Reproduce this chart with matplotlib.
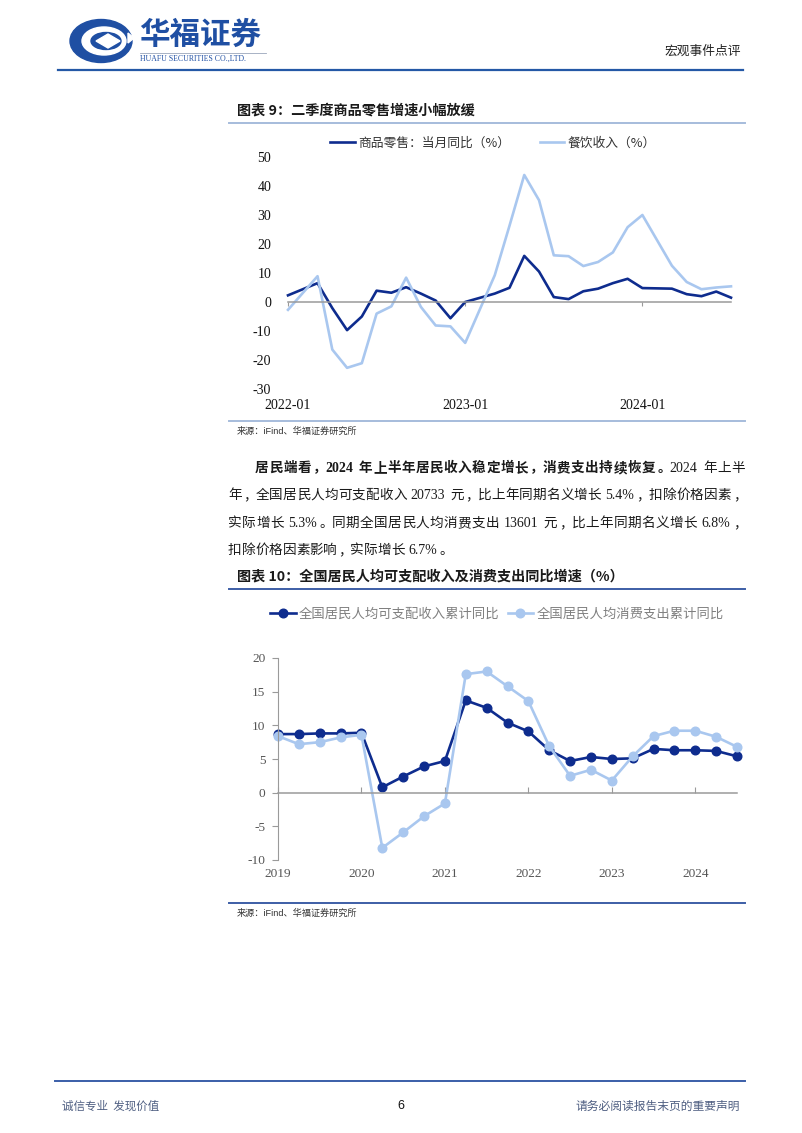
import re

import matplotlib
matplotlib.use("Agg")
import matplotlib.pyplot as plt
from matplotlib.font_manager import FontProperties
from matplotlib.patches import Ellipse, Polygon

W, H, DPI = 802, 1133, 100

NAVY = "#0e2c8e"
LIGHT = "#a9c7ef"
BRAND = "#1f4fa3"
RULE_LIGHT = "#a6bcdc"
RULE_DARK = "#3d5ea6"
ZERO = "#9a9a9a"
INK = "#1a1a1a"

CJK = "Noto Sans CJK SC"
SERIF = "Liberation Serif"

plt.rcParams["axes.unicode_minus"] = False

# ---- chart 9: monthly yoy, retail of goods vs catering (%) ----
retail_months = ["2021-12", "2022-02", "2022-03", "2022-04", "2022-05", "2022-06",
                 "2022-07", "2022-08", "2022-09", "2022-10", "2022-11", "2022-12",
                 "2023-02", "2023-03", "2023-04", "2023-05", "2023-06", "2023-07",
                 "2023-08", "2023-09", "2023-10", "2023-11", "2023-12",
                 "2024-02", "2024-03", "2024-04", "2024-05", "2024-06"]
goods_yoy = [2.3, 6.5, -2.1, -9.7, -5.0, 3.9, 3.2, 5.1, 2.9, 0.5, -5.6, 0.0,
             2.9, 4.9, 15.9, 10.5, 1.7, 1.0, 3.7, 4.6, 6.5, 8.0, 4.8,
             4.6, 2.7, 2.0, 3.6, 1.5]
catering_yoy = [-2.7, 8.9, -16.4, -22.7, -21.1, -4.0, -1.5, 8.4, -1.7, -8.1, -8.4, -14.1,
                9.2, 26.3, 43.8, 35.1, 16.1, 15.8, 12.4, 13.8, 17.1, 25.8, 30.0,
                12.5, 6.9, 4.4, 5.0, 5.4]
month_tick_labels = ["2022-01", "2023-01", "2024-01"]

# ---- chart 10: cumulative yoy per-capita income / consumption (%) ----
quarters = ["2018Q4", "2019Q1", "2019Q2", "2019Q3", "2019Q4", "2020Q1", "2020Q2",
            "2020Q3", "2020Q4", "2021Q1", "2021Q2", "2021Q3", "2021Q4", "2022Q1",
            "2022Q2", "2022Q3", "2022Q4", "2023Q1", "2023Q2", "2023Q3", "2023Q4",
            "2024Q1", "2024Q2"]
income_yoy = [8.7, 8.7, 8.8, 8.8, 8.9, 0.8, 2.4, 3.9, 4.7, 13.7, 12.6, 10.4, 9.1,
              6.3, 4.7, 5.3, 5.0, 5.1, 6.5, 6.3, 6.3, 6.2, 5.4]
consumption_yoy = [8.4, 7.2, 7.5, 8.2, 8.6, -8.2, -5.9, -3.5, -1.6, 17.6, 18.0, 15.8,
                   13.6, 6.9, 2.5, 3.4, 1.8, 5.4, 8.4, 9.2, 9.2, 8.3, 6.8]
year_tick_labels = ["2019", "2020", "2021", "2022", "2023", "2024"]


def month_pos(s):
    # month-end dates sit on the start of the next month
    y, m = s.split("-")
    return (int(y) - 2022) * 12 + int(m)


def quarter_pos(s):
    y, q = s.split("Q")
    return (int(y) - 2019) * 4 + int(q)


def rect(x0, y0, x1, y1):
    return [x0 / W, 1 - y1 / H, (x1 - x0) / W, (y1 - y0) / H]


fig = plt.figure(figsize=(W / DPI, H / DPI), dpi=DPI)
fig.patch.set_facecolor("white")
renderer = fig.canvas.get_renderer()

page = fig.add_axes([0, 0, 1, 1])
page.set_xlim(0, W)
page.set_ylim(H, 0)
page.axis("off")

# ---- header ----
page.add_patch(Ellipse((101, 41), 62, 43, color=BRAND))
page.add_patch(Ellipse((104, 41), 44, 28, color="white"))
page.add_patch(Ellipse((106, 41), 30, 17, color=BRAND))
page.add_patch(Polygon([(96, 41), (108, 34), (120, 41), (108, 48)], color="white"))
page.add_patch(Polygon([(128, 33), (134, 38), (128, 43)], color="white"))
page.text(139, 35, "华福证券", family=CJK, fontsize=22, fontweight="bold",
          color=BRAND, va="center", ha="left")
page.plot([140, 266], [53, 53], color="#9aa6bb", lw=0.6)
page.text(140, 59, "HUAFU SECURITIES CO.,LTD.", family=SERIF, fontsize=5.6,
          color=BRAND, va="center", ha="left")
page.text(741, 51, "宏观事件点评", family=CJK, fontsize=9.2, color="#222222",
          va="center", ha="right")
page.plot([58, 743], [70, 70], color="#2458a6", lw=1.6)

# ---- chart 9 frame ----
page.text(237, 110, "图表 9：二季度商品零售增速小幅放缓", family=CJK, fontsize=10.2,
          fontweight="bold", color=INK, va="center", ha="left")
page.plot([229, 745], [123, 123], color=RULE_LIGHT, lw=1.4)
page.plot([229, 745], [421, 421], color=RULE_LIGHT, lw=1.4)
page.text(237, 431, "来源：iFind、华福证券研究所", family=["Liberation Sans", CJK],
          fontsize=6.6, color="#333333", va="center", ha="left")

ax1 = fig.add_axes(rect(288, 157, 731, 389))
ax1.patch.set_alpha(0)
mx = [month_pos(m) for m in retail_months]
l1, = ax1.plot(mx, goods_yoy, color=NAVY, lw=1.9, label="商品零售：当月同比（%）",
               clip_on=False)
l2, = ax1.plot(mx, catering_yoy, color=LIGHT, lw=1.9, label="餐饮收入（%）",
               clip_on=False)
ax1.set_xlim(0, 30)
ax1.set_ylim(-30, 50)
ax1.set_yticks(range(-30, 51, 10))
ax1.tick_params(axis="y", length=0, pad=12, labelsize=10, labelcolor="#111111")
for lab in ax1.get_yticklabels():
    lab.set_family(SERIF)
for side in ("top", "right", "left"):
    ax1.spines[side].set_visible(False)
ax1.spines["bottom"].set_position(("data", 0))
ax1.spines["bottom"].set_color(ZERO)
ax1.spines["bottom"].set_linewidth(1.1)
ax1.set_zorder(3)
mticks = [0, 12, 24]
ax1.set_xticks(mticks)
ax1.tick_params(axis="x", length=3, color=ZERO, direction="out", labelbottom=False)
for pos, lab in zip(mticks, month_tick_labels):
    ax1.text(pos, -0.045, lab, transform=ax1.get_xaxis_transform(), ha="center",
             va="top", family=SERIF, fontsize=10, color="#111111")

fig.legend(handles=[l1, l2], loc="center", bbox_to_anchor=(493 / W, 1 - 143 / H),
           ncol=2, frameon=False, prop=FontProperties(family=CJK, size=9.2),
           handlelength=1.95, handletextpad=0.25, columnspacing=2.3,
           labelcolor="#333333")

# ---- body paragraph, justified line by line ----
EM = 13.6
SPACE = 3.5


def put_line(segments, x0, y, x1=None):
    items = []
    for text, weight in segments:
        for tok in re.findall(r"[A-Za-z0-9.%]+| |.", text):
            items.append((tok, weight))
    widths = []
    for tok, weight in items:
        if tok == " ":
            widths.append(SPACE)
        elif re.match(r"[A-Za-z0-9.%]", tok):
            t = page.text(0, 0, tok, family=SERIF, fontsize=10, fontweight=weight)
            widths.append(t.get_window_extent(renderer).width + 1)
            t.remove()
        else:
            widths.append(EM)
    gap = 0.0
    if x1 is not None:
        gap = (x1 - x0 - sum(widths)) / (len(items) - 1)
    x = x0
    for (tok, weight), w in zip(items, widths):
        if tok != " ":
            if re.match(r"[A-Za-z0-9.%]", tok):
                page.text(x, y, tok, family=SERIF, fontsize=10, fontweight=weight,
                          color=INK, ha="left", va="baseline")
            elif tok in "，。、：":
                page.text(x + 1.5, y, tok, family=CJK, fontsize=9.8, fontweight=weight,
                          color=INK, ha="left", va="baseline")
            else:
                page.text(x + w / 2, y, tok, family=CJK, fontsize=9.8,
                          fontweight=weight, color=INK, ha="center", va="baseline")
        x += w + gap


put_line([("居民端看，2024 年上半年居民收入稳定增长，消费支出持续恢复。", "bold"),
          ("2024 年上半", "normal")], 255, 472, 745)
put_line([("年，全国居民人均可支配收入 20733 元，比上年同期名义增长 5.4%，扣除价格因素，",
           "normal")], 228, 499, 745)
put_line([("实际增长 5.3%。同期全国居民人均消费支出 13601 元，比上年同期名义增长 6.8%，",
           "normal")], 228, 527, 745)
put_line([("扣除价格因素影响，实际增长 6.7%。", "normal")], 228, 554)

# ---- chart 10 frame ----
page.text(237, 576, "图表 10：全国居民人均可支配收入及消费支出同比增速（%）", family=CJK,
          fontsize=10.2, fontweight="bold", color=INK, va="center", ha="left")
page.plot([229, 745], [589, 589], color=RULE_DARK, lw=1.4)
page.plot([229, 745], [903, 903], color=RULE_DARK, lw=1.4)
page.text(237, 913, "来源：iFind、华福证券研究所", family=["Liberation Sans", CJK],
          fontsize=6.6, color="#333333", va="center", ha="left")

ax2 = fig.add_axes(rect(278, 658, 737, 860))
ax2.patch.set_alpha(0)
qx = [quarter_pos(q) for q in quarters]
m1, = ax2.plot(qx, income_yoy, color=NAVY, lw=1.9, marker="o", ms=6.2,
               label="全国居民人均可支配收入累计同比", clip_on=False)
m2, = ax2.plot(qx, consumption_yoy, color=LIGHT, lw=1.9, marker="o", ms=6.2,
               label="全国居民人均消费支出累计同比", clip_on=False)
ax2.set_xlim(0, 22)
ax2.set_ylim(-10, 20)
ax2.set_yticks(range(-10, 21, 5))
ax2.tick_params(axis="y", length=4, color=ZERO, pad=5, labelsize=9.6,
                labelcolor="#555555")
for lab in ax2.get_yticklabels():
    lab.set_family(SERIF)
for side in ("top", "right"):
    ax2.spines[side].set_visible(False)
ax2.spines["left"].set_color(ZERO)
ax2.spines["bottom"].set_position(("data", 0))
ax2.spines["bottom"].set_color(ZERO)
ax2.spines["bottom"].set_linewidth(1.1)
ax2.set_zorder(3)
qticks = [0, 4, 8, 12, 16, 20]
ax2.set_xticks(qticks)
ax2.tick_params(axis="x", length=4, color=ZERO, direction="in", labelbottom=False)
for pos, lab in zip(qticks, year_tick_labels):
    ax2.text(pos, -0.04, lab, transform=ax2.get_xaxis_transform(), ha="center",
             va="top", family=SERIF, fontsize=9.6, color="#555555")

fig.legend(handles=[m1, m2], loc="center", bbox_to_anchor=(497 / W, 1 - 614 / H),
           ncol=2, frameon=False, prop=FontProperties(family=CJK, size=9.6),
           handlelength=1.9, handletextpad=0.25, columnspacing=0.6,
           labelcolor="#808080", numpoints=1)

# ---- footer ----
page.plot([55, 745], [1081, 1081], color="#3a5ea8", lw=1.4)
page.text(62, 1106, "诚信专业  发现价值", family=CJK, fontsize=8.3, color="#4f5f82",
          va="center", ha="left")
page.text(401, 1106, "6", family="Liberation Sans", fontsize=9, color="#111111",
          va="center", ha="center")
page.text(740, 1106, "请务必阅读报告末页的重要声明", family=CJK, fontsize=8.5,
          color="#4f5f82", va="center", ha="right")

fig.savefig("out.png", dpi=DPI, facecolor="white")
